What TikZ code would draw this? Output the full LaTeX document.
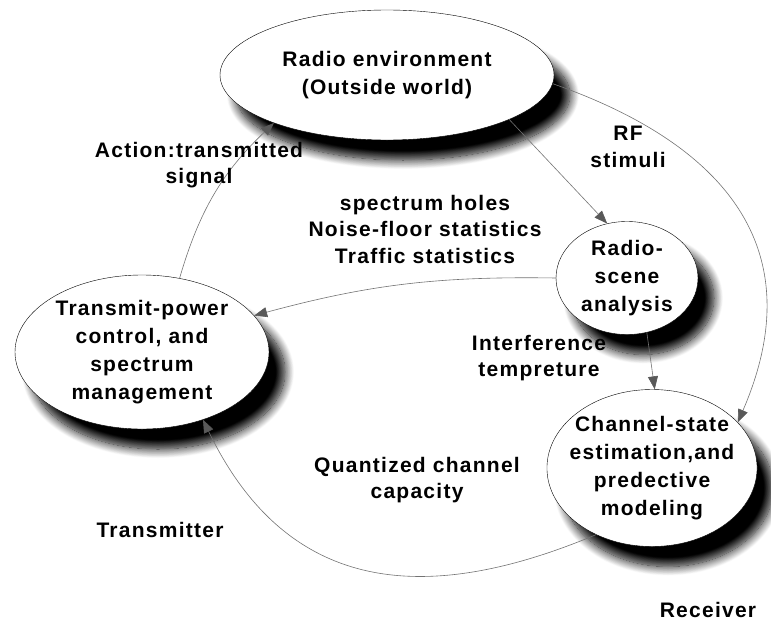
\documentclass[tikz,border=0pt]{standalone}
\usepackage{fontspec}
\setmainfont{Liberation Sans}[LetterSpace=6]
\usetikzlibrary{shapes.geometric,arrows.meta,shadows.blur}
\begin{document}
\begin{tikzpicture}[x=1pt,y=1pt,
  blob/.style={ellipse,draw=black,thin,fill=white,inner sep=0pt,align=center,
    font=\bfseries\fontsize{21}{28}\selectfont,
    blur shadow={shadow xshift=16pt,shadow yshift=-20pt,shadow blur radius=9pt,shadow opacity=100,shadow blur steps=14}},
  conn/.style={draw=black!55,line width=0.6pt,-{Triangle[length=13pt,width=10pt,color=black!65]}},
  lbl/.style={align=center,font=\bfseries\fontsize{21}{26.5}\selectfont}]
  \useasboundingbox (0,0) rectangle (771,-621);
  % the four blocks
  \node[blob,minimum width=334pt,minimum height=130pt] (env) at (387,-75) {Radio environment\\(Outside world)};
  \node[blob,minimum width=142pt,minimum height=113pt] (scene) at (627,-278) {Radio-\\scene\\analysis};
  \node[blob,minimum width=204pt,minimum height=157pt,inner xsep=-8pt] (chan) at (652,-468) {Channel-state\\estimation,and\\predective\\modeling};
  \node[blob,minimum width=254pt,minimum height=154pt] (tpc) at (142,-352) {Transmit-power\\control, and\\spectrum\\management};
  % loop connectors
  \draw[conn] (env.-20) -- (scene.110);
  \draw[conn] (env.-3) .. controls (708,-138) and (818,-237) .. (chan.28);
  \draw[conn] (scene.west) to[bend right=8] (tpc.18);
  \draw[conn] (scene.-70) -- (chan.88);
  \draw[conn] (chan.-130) .. controls (433,-603) and (290,-600) .. (tpc.-48);
  \draw[conn] (tpc.63) to[bend left=15] (env.-157);
  % labels
  \node[lbl] (action) at (199,-165) {Action:transmitted\\signal};
  \node[lbl] (holes) at (425,-229) {spectrum holes\\Noise-floor statistics\\Traffic statistics};
  \node[lbl] (rf) at (628,-147) {RF\\stimuli};
  \node[lbl] (interf) at (539,-358) {Interference\\tempreture};
  \node[lbl] (quant) at (417,-480) {Quantized channel\\capacity};
  \node[lbl] (tx) at (160,-530) {Transmitter};
  \node[lbl] (rx) at (708,-610) {Receiver};
\end{tikzpicture}
\end{document}
